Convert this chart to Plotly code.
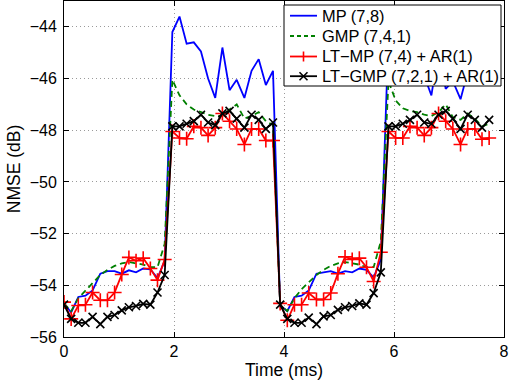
import plotly.graph_objects as go

# Sample instants (ms)
time_ms = [0.00, 0.13, 0.26, 0.39, 0.52, 0.66, 0.79, 0.92, 1.05, 1.18,
           1.31, 1.44, 1.57, 1.70, 1.83, 1.97, 2.10, 2.23, 2.36, 2.49,
           2.62, 2.75, 2.88, 3.01, 3.14, 3.28, 3.41, 3.54, 3.67, 3.80,
           3.93, 4.06, 4.19, 4.32, 4.45, 4.59, 4.72, 4.85, 4.98, 5.11,
           5.24, 5.37, 5.50, 5.63, 5.76, 5.90, 6.03, 6.16, 6.29, 6.42,
           6.55, 6.68, 6.81, 6.94, 7.07, 7.21, 7.34, 7.47, 7.60, 7.73]

# NMSE (dB) per model
nmse_mp = [-54.70, -55.05, -54.45, -54.40, -54.20, -53.55, -53.45, -53.45, -53.55, -53.42,
           -53.50, -53.35, -53.38, -53.72, -53.05, -44.20, -43.60, -44.65, -44.60, -44.95,
           -46.00, -46.75, -44.80, -46.45, -46.05, -46.75, -45.70, -45.25, -46.25, -45.70,
           -54.80, -55.00, -54.45, -54.40, -54.20, -53.55, -53.50, -53.45, -53.55, -53.45,
           -53.50, -53.35, -53.40, -53.70, -53.00, -44.30, -43.70, -44.60, -44.70, -45.00,
           -45.90, -46.65, -44.90, -46.40, -46.10, -46.80, -45.75, -45.30, -46.20, -45.75]

nmse_gmp = [-54.70, -55.00, -54.50, -54.20, -53.90, -53.60, -53.40, -53.25, -53.15, -53.10,
            -53.15, -53.20, -53.30, -53.30, -52.40, -46.05, -46.65, -47.00, -47.20, -47.30,
            -47.40, -47.45, -47.45, -47.20, -47.00, -47.55, -47.45, -47.30, -47.65, -47.80,
            -54.75, -55.00, -54.50, -54.15, -53.90, -53.60, -53.40, -53.25, -53.15, -53.10,
            -53.15, -53.20, -53.30, -53.30, -52.30, -46.10, -46.85, -47.15, -47.25, -47.30,
            -47.40, -47.45, -47.30, -47.00, -47.50, -47.60, -47.35, -47.55, -47.85, -47.75]

nmse_lt_mp = [-54.65, -55.30, -54.78, -54.75, -54.28, -54.58, -54.58, -54.28, -53.58, -52.92,
              -53.05, -52.95, -53.35, -53.80, -53.00, -48.05, -48.30, -48.33, -47.85, -47.90,
              -48.20, -47.90, -47.35, -47.65, -47.95, -48.55, -47.95, -47.95, -48.40, -48.40,
              -54.70, -55.35, -54.75, -54.75, -54.30, -54.55, -54.55, -54.30, -53.55, -52.90,
              -53.00, -52.95, -53.30, -53.85, -52.72, -48.05, -48.30, -48.30, -47.85, -47.90,
              -48.20, -47.90, -47.35, -47.65, -47.95, -48.55, -47.95, -47.95, -48.35, -48.30]

nmse_lt_gmp = [-54.75, -55.30, -55.45, -55.45, -55.22, -55.50, -55.22, -55.15, -54.97, -54.85,
               -54.80, -54.72, -54.75, -54.28, -53.60, -47.85, -47.85, -47.75, -47.65, -47.40,
               -47.70, -47.80, -47.35, -47.25, -47.55, -47.90, -47.40, -47.60, -47.95, -47.70,
               -54.75, -55.30, -55.45, -55.45, -55.25, -55.50, -55.20, -55.15, -54.95, -54.85,
               -54.80, -54.70, -54.75, -54.30, -53.50, -47.85, -47.85, -47.75, -47.60, -47.40,
               -47.70, -47.75, -47.40, -47.25, -47.55, -47.95, -47.40, -47.60, -47.90, -47.60]

series_names = ["MP (7,8)", "GMP (7,4,1)", "LT\u2212MP (7,4) + AR(1)", "LT\u2212GMP (7,2,1) + AR(1)"]
series_colors = ["#0000ff", "#008000", "#ff0000", "#000000"]

x_ticks = [0, 2, 4, 6, 8]
y_ticks = [-56, -54, -52, -50, -48, -46, -44]

FONT = "Liberation Sans, Arial, Helvetica, sans-serif"
W, H = 509, 383
ML, MR, MT, MB = 64, 5, 1, 46
PW, PH = W - ML - MR, H - MT - MB

fig = go.Figure()
fig.add_trace(go.Scatter(x=time_ms, y=nmse_mp, mode="lines", name=series_names[0],
                         line=dict(color=series_colors[0], width=1.8)))
fig.add_trace(go.Scatter(x=time_ms, y=nmse_gmp, mode="lines", name=series_names[1],
                         line=dict(color=series_colors[1], width=1.8, dash="6px,4px")))
fig.add_trace(go.Scatter(x=time_ms, y=nmse_lt_mp, mode="lines+markers", name=series_names[2],
                         line=dict(color=series_colors[2], width=1.8),
                         marker=dict(symbol="cross-thin", size=10, color=series_colors[2],
                                     line=dict(color=series_colors[2], width=1.6))))
fig.add_trace(go.Scatter(x=time_ms, y=nmse_lt_gmp, mode="lines+markers", name=series_names[3],
                         line=dict(color=series_colors[3], width=1.8),
                         marker=dict(symbol="x-thin", size=8, color=series_colors[3],
                                     line=dict(color=series_colors[3], width=1.6))))

axis_common = dict(
    showline=True, linecolor="black", linewidth=1, mirror="ticks",
    ticks="inside", ticklen=5, tickcolor="black", tickwidth=1,
    showgrid=True, gridcolor="#9a9a9a", gridwidth=1, griddash="1px,3px",
    zeroline=False, tickfont=dict(family=FONT, size=16, color="black"),
)

fig.update_xaxes(range=[0, 8], tickvals=x_ticks,
                 title=dict(text="Time (ms)", font=dict(family=FONT, size=17.5, color="black"),
                            standoff=2),
                 **axis_common)
fig.update_yaxes(range=[-56, -43], tickvals=y_ticks,
                 title=dict(text="NMSE (dB)", font=dict(family=FONT, size=17.5, color="black"),
                            standoff=4),
                 ticklabelstandoff=3,
                 **axis_common)


# Legend box drawn in pixel units of the plotting area
def px(x):
    return (x - ML) / PW


def py(y):
    return (MT + PH - y) / PH


shapes = []
annotations = []
box = dict(x0=284, y0=5, x1=501, y1=86)
shapes.append(dict(type="rect", xref="paper", yref="paper",
                   x0=px(box["x0"]), x1=px(box["x1"]), y0=py(box["y1"]), y1=py(box["y0"]),
                   fillcolor="white", line=dict(color="black", width=1), layer="above"))
row_y = [15.7, 36.0, 56.5, 76.2]
sx0, sx1 = 290, 317
sxc = (sx0 + sx1) / 2
for k, (name, col) in enumerate(zip(series_names, series_colors)):
    yy = row_y[k]
    dash = "4px,3px" if k == 1 else "solid"
    shapes.append(dict(type="line", xref="paper", yref="paper",
                       x0=px(sx0), x1=px(sx1), y0=py(yy), y1=py(yy),
                       line=dict(color=col, width=1.8, dash=dash), layer="above"))
    if k == 2:
        shapes.append(dict(type="line", xref="paper", yref="paper",
                           x0=px(sxc), x1=px(sxc), y0=py(yy - 5), y1=py(yy + 5),
                           line=dict(color=col, width=1.6), layer="above"))
    if k == 3:
        for d in (-1, 1):
            shapes.append(dict(type="line", xref="paper", yref="paper",
                               x0=px(sxc - 4), x1=px(sxc + 4),
                               y0=py(yy - 4 * d), y1=py(yy + 4 * d),
                               line=dict(color=col, width=1.6), layer="above"))
    annotations.append(dict(xref="paper", yref="paper", x=px(320), y=py(yy),
                            xanchor="left", yanchor="middle", showarrow=False,
                            text=name, font=dict(family=FONT, size=16.4, color="black")))

fig.update_layout(
    width=W, height=H,
    margin=dict(l=ML, r=MR, t=MT, b=MB),
    paper_bgcolor="white", plot_bgcolor="white",
    font=dict(family=FONT, size=16, color="black"),
    showlegend=False,
    shapes=shapes,
    annotations=annotations,
)

fig.write_html("out.html")
